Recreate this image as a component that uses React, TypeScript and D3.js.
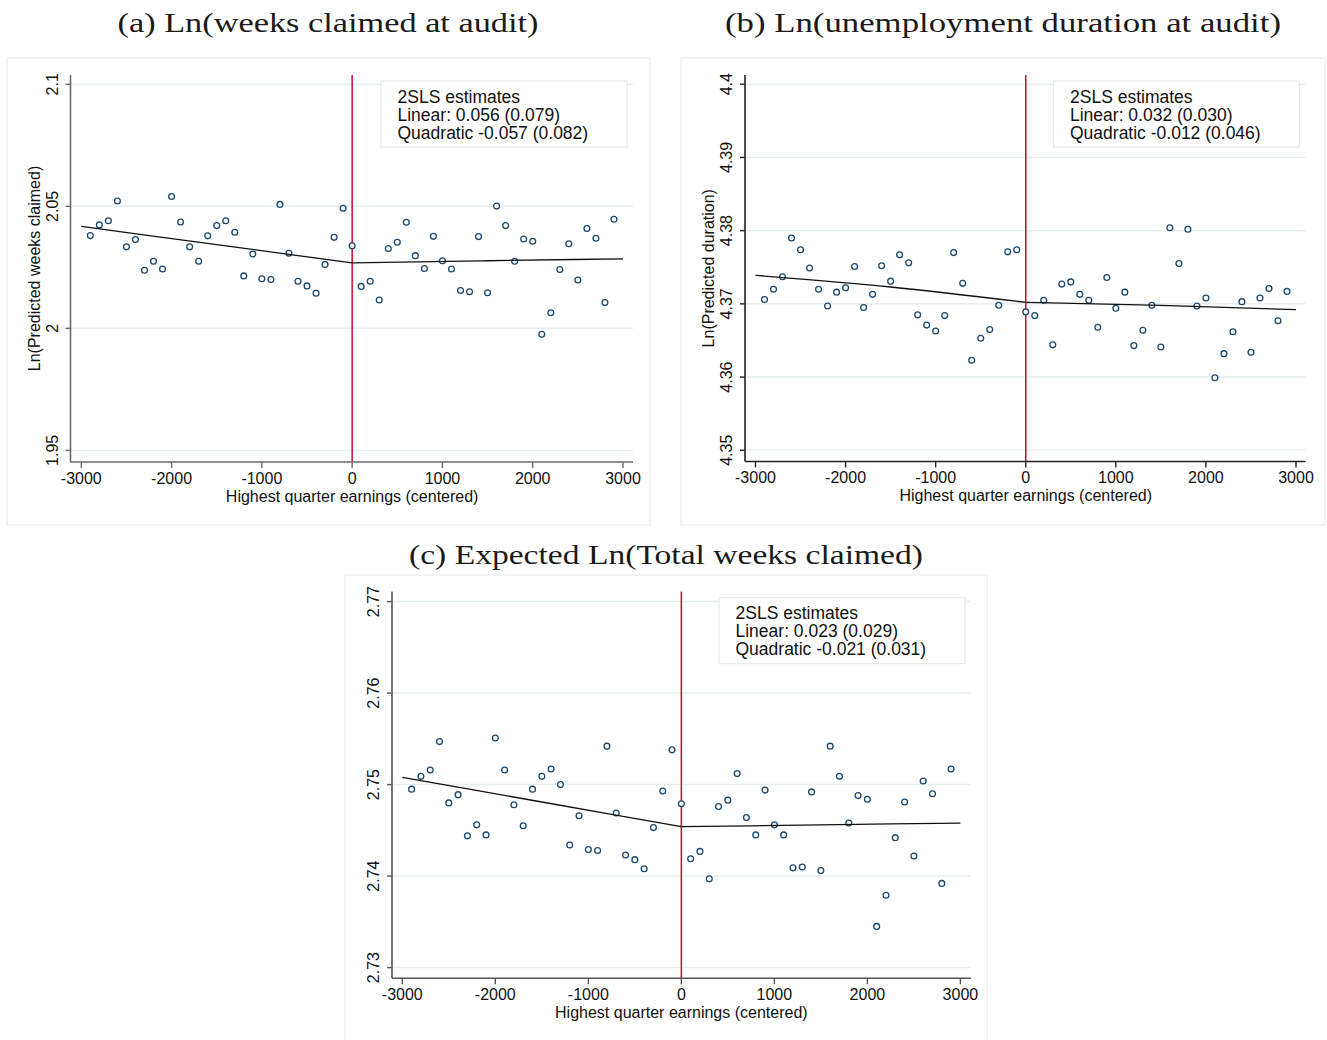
import React from "react";
import * as d3 from "d3";

// bin midpoints of centered highest quarter earnings
const bins = [
  -2900, -2800, -2700, -2600, -2500, -2400, -2300, -2200, -2100, -2000,
  -1900, -1800, -1700, -1600, -1500, -1400, -1300, -1200, -1100, -1000,
  -900, -800, -700, -600, -500, -400, -300, -200, -100, 0,
  100, 200, 300, 400, 500, 600, 700, 800, 900, 1000,
  1100, 1200, 1300, 1400, 1500, 1600, 1700, 1800, 1900, 2000,
  2100, 2200, 2300, 2400, 2500, 2600, 2700, 2800, 2900,
];

// (a) Ln(weeks claimed at audit)
const weeksClaimed = [
  2.038, 2.0424, 2.0441, 2.0522, 2.0334, 2.0364, 2.0238, 2.0275, 2.0243, 2.054,
  2.0436, 2.0334, 2.0275, 2.0379, 2.0421, 2.0441, 2.0394, 2.0215, 2.0305, 2.0203,
  2.02, 2.0508, 2.0308, 2.0193, 2.0174, 2.0144, 2.0262, 2.0373, 2.0492, 2.0338,
  2.0172, 2.0193, 2.0116, 2.0327, 2.0353, 2.0435, 2.0298, 2.0245, 2.0377, 2.0277,
  2.0243, 2.0155, 2.015, 2.0376, 2.0146, 2.0501, 2.0421, 2.0275, 2.0366, 2.0357,
  1.9976, 2.0064, 2.0241, 2.0347, 2.0198, 2.0409, 2.0369, 2.0106, 2.0447,
];

// (b) Ln(unemployment duration at audit)
const duration = [
  4.3706, 4.372, 4.3737, 4.379, 4.3774, 4.3749, 4.372, 4.3697, 4.3716, 4.3722,
  4.3751, 4.3695, 4.3713, 4.3752, 4.3731, 4.3767, 4.3756, 4.3685, 4.3671, 4.3663,
  4.3684, 4.377, 4.3728, 4.3623, 4.3653, 4.3665, 4.3698, 4.3771, 4.3774, 4.3689,
  4.3684, 4.3705, 4.3644, 4.3727, 4.373, 4.3713, 4.3705, 4.3668, 4.3736, 4.3694,
  4.3716, 4.3643, 4.3664, 4.3698, 4.3641, 4.3804, 4.3755, 4.3802, 4.3697, 4.3708,
  4.3599, 4.3632, 4.3662, 4.3703, 4.3634, 4.3708, 4.3721, 4.3677, 4.3717,
];

// (c) Expected Ln(Total weeks claimed)
const totalWeeks = [
  2.7495, 2.7509, 2.7516, 2.7547, 2.748, 2.7489, 2.7444, 2.7456, 2.7445, 2.7551,
  2.7516, 2.7478, 2.7455, 2.7495, 2.7509, 2.7517, 2.75, 2.7434, 2.7466, 2.7429,
  2.7428, 2.7542, 2.7469, 2.7423, 2.7418, 2.7408, 2.7453, 2.7493, 2.7538, 2.7479,
  2.7419, 2.7427, 2.7397, 2.7476, 2.7483, 2.7512, 2.7464, 2.7445, 2.7494, 2.7456,
  2.7445, 2.7409, 2.741, 2.7492, 2.7406, 2.7542, 2.7509, 2.7458, 2.7488, 2.7484,
  2.7345, 2.7379, 2.7442, 2.7481, 2.7422, 2.7504, 2.749, 2.7392, 2.7517,
];

// fitted lines on each side of the cutoff
const fitXLeft = [-3000, -1500, 0];
const fitXRight = [0, 1500, 3000];
const weeksFitLeft = [2.0418, 2.0343, 2.0268];
const weeksFitRight = [2.0268, 2.0277, 2.0285];
const durationFitLeft = [4.3739, 4.3723, 4.3702];
const durationFitRight = [4.3702, 4.3698, 4.3692];
const totalFitLeft = [2.7508, 2.7481, 2.7454];
const totalFitRight = [2.7454, 2.7456, 2.7458];

const xTicks = [-3000, -2000, -1000, 0, 1000, 2000, 3000];
const weeksTicks = [1.95, 2, 2.05, 2.1];
const durationTicks = [4.35, 4.36, 4.37, 4.38, 4.39, 4.4];
const totalTicks = [2.73, 2.74, 2.75, 2.76, 2.77];

const weeksNotes = ["2SLS estimates", "Linear: 0.056 (0.079)", "Quadratic -0.057 (0.082)"];
const durationNotes = ["2SLS estimates", "Linear: 0.032 (0.030)", "Quadratic -0.012 (0.046)"];
const totalNotes = ["2SLS estimates", "Linear: 0.023 (0.029)", "Quadratic -0.021 (0.031)"];

const SANS = "Arial, 'Liberation Sans', Helvetica, sans-serif";
const SERIF = "'Liberation Serif', 'Times New Roman', serif";
const MARKER = "#1a476f";
const CUTOFF = "#cc0a2e";
const GRID = "#e6eef1";

type PanelProps = {
  title: string;
  titleX: number;
  titleY: number;
  titleLen: number;
  frame: [number, number, number, number];
  axisX: number;
  axisTop: number;
  axisBottom: number;
  plotRight: number;
  xRange: [number, number];
  yRange: [number, number];
  yTicks: number[];
  values: number[];
  fitLeft: number[];
  fitRight: number[];
  notes: string[];
  yTitle?: string;
  axisColor: string;
};

function Panel(p: PanelProps) {
  const x = d3.scaleLinear().domain([-3000, 3000]).range(p.xRange);
  const y = d3
    .scaleLinear()
    .domain([p.yTicks[0], p.yTicks[p.yTicks.length - 1]])
    .range(p.yRange);
  const line = d3
    .line<[number, number]>()
    .x((d) => x(d[0]))
    .y((d) => y(d[1]))
    .curve(d3.curveNatural);
  const left = fitXLeft.map((v, i) => [v, p.fitLeft[i]] as [number, number]);
  const right = fitXRight.map((v, i) => [v, p.fitRight[i]] as [number, number]);
  // Stata prints a plain hyphen for negatives
  const fmt = (v: number) => String(v);

  const boxW = 246;
  const boxH = 66;
  const boxX = p.plotRight - 6 - boxW;
  const boxY = p.axisTop + 6;
  const midY = (p.axisTop + p.axisBottom) / 2;

  return (
    <g>
      <rect
        x={p.frame[0]}
        y={p.frame[1]}
        width={p.frame[2]}
        height={p.frame[3]}
        fill="white"
        stroke="#e8eef0"
        strokeWidth={1.2}
      />
      <text
        x={p.titleX}
        y={p.titleY}
        textAnchor="middle"
        fontFamily={SERIF}
        fontSize={28}
        textLength={p.titleLen}
        lengthAdjust="spacingAndGlyphs"
        fill="#1a1a1a"
      >
        {p.title}
      </text>

      {p.yTicks.map((t) => (
        <line
          key={"g" + t}
          x1={p.axisX}
          x2={p.plotRight}
          y1={y(t)}
          y2={y(t)}
          stroke={GRID}
          strokeWidth={1.5}
        />
      ))}

      <line
        x1={x(0)}
        x2={x(0)}
        y1={p.axisTop}
        y2={p.axisBottom}
        stroke={CUTOFF}
        strokeWidth={1.5}
      />

      {p.values.map((v, i) => (
        <circle
          key={i}
          cx={x(bins[i])}
          cy={y(v)}
          r={2.9}
          fill="white"
          stroke={MARKER}
          strokeWidth={1.3}
        />
      ))}

      <path d={line(left) || ""} fill="none" stroke="#111" strokeWidth={1.3} />
      <path d={line(right) || ""} fill="none" stroke="#111" strokeWidth={1.3} />

      {/* axes */}
      <line
        x1={p.axisX}
        x2={p.axisX}
        y1={p.axisTop}
        y2={p.axisBottom}
        stroke={p.axisColor}
        strokeWidth={1.6}
      />
      <line
        x1={p.axisX}
        x2={p.plotRight}
        y1={p.axisBottom}
        y2={p.axisBottom}
        stroke={p.axisColor}
        strokeWidth={1.6}
      />
      {p.yTicks.map((t) => (
        <g key={"y" + t}>
          <line
            x1={p.axisX - 5}
            x2={p.axisX}
            y1={y(t)}
            y2={y(t)}
            stroke={p.axisColor}
            strokeWidth={1.4}
          />
          <text
            transform={`translate(${p.axisX - 13},${y(t)}) rotate(-90)`}
            textAnchor="middle"
            fontFamily={SANS}
            fontSize={16}
            fill="#111"
          >
            {fmt(t)}
          </text>
        </g>
      ))}
      {xTicks.map((t) => (
        <g key={"x" + t}>
          <line
            x1={x(t)}
            x2={x(t)}
            y1={p.axisBottom}
            y2={p.axisBottom + 6}
            stroke={p.axisColor}
            strokeWidth={1.4}
          />
          <text
            x={x(t)}
            y={p.axisBottom + 21.5}
            textAnchor="middle"
            fontFamily={SANS}
            fontSize={16}
            fill="#111"
          >
            {fmt(t)}
          </text>
        </g>
      ))}
      <text
        x={x(0)}
        y={p.axisBottom + 39.5}
        textAnchor="middle"
        fontFamily={SANS}
        fontSize={16}
        fill="#111"
      >
        Highest quarter earnings (centered)
      </text>
      {p.yTitle && (
        <text
          transform={`translate(${p.axisX - 31},${midY}) rotate(-90)`}
          textAnchor="middle"
          fontFamily={SANS}
          fontSize={16}
          fill="#111"
        >
          {p.yTitle}
        </text>
      )}

      {/* estimates box */}
      <rect
        x={boxX}
        y={boxY}
        width={boxW}
        height={boxH}
        fill="white"
        stroke="#e4ecef"
        strokeWidth={1.2}
      />
      {p.notes.map((n, i) => (
        <text
          key={n}
          x={boxX + 16.5}
          y={boxY + 21.6 + i * 18}
          fontFamily={SANS}
          fontSize={17.5}
          fill="#111"
        >
          {n}
        </text>
      ))}
    </g>
  );
}

export default function App() {
  return (
    <svg
      width={1327}
      height={1040}
      style={{ position: "absolute", left: 0, top: 0, background: "white" }}
    >
      <rect width={1327} height={1040} fill="white" />
      <Panel
        title="(a) Ln(weeks claimed at audit)"
        titleX={328}
        titleY={32}
        titleLen={421}
        frame={[7, 58, 643, 467]}
        axisX={70.5}
        axisTop={75}
        axisBottom={462}
        plotRight={633}
        xRange={[81.3, 623]}
        yRange={[450.4, 84.3]}
        yTicks={weeksTicks}
        values={weeksClaimed}
        fitLeft={weeksFitLeft}
        fitRight={weeksFitRight}
        notes={weeksNotes}
        yTitle="Ln(Predicted weeks claimed)"
        axisColor="#6a6a6a"
      />
      <Panel
        title="(b) Ln(unemployment duration at audit)"
        titleX={1003}
        titleY={32}
        titleLen={556}
        frame={[681, 58, 644, 467]}
        axisX={745}
        axisTop={75}
        axisBottom={461.5}
        plotRight={1305.5}
        xRange={[755.5, 1296]}
        yRange={[450.3, 84.2]}
        yTicks={durationTicks}
        values={duration}
        fitLeft={durationFitLeft}
        fitRight={durationFitRight}
        notes={durationNotes}
        yTitle="Ln(Predicted duration)"
        axisColor="#222"
      />
      <Panel
        title="(c) Expected Ln(Total weeks claimed)"
        titleX={666}
        titleY={564}
        titleLen={514}
        frame={[345, 575, 642, 475]}
        axisX={392}
        axisTop={591.6}
        axisBottom={978.2}
        plotRight={971}
        xRange={[402.3, 960.4]}
        yRange={[967.6, 601.6]}
        yTicks={totalTicks}
        values={totalWeeks}
        fitLeft={totalFitLeft}
        fitRight={totalFitRight}
        notes={totalNotes}
        axisColor="#555"
      />
    </svg>
  );
}
